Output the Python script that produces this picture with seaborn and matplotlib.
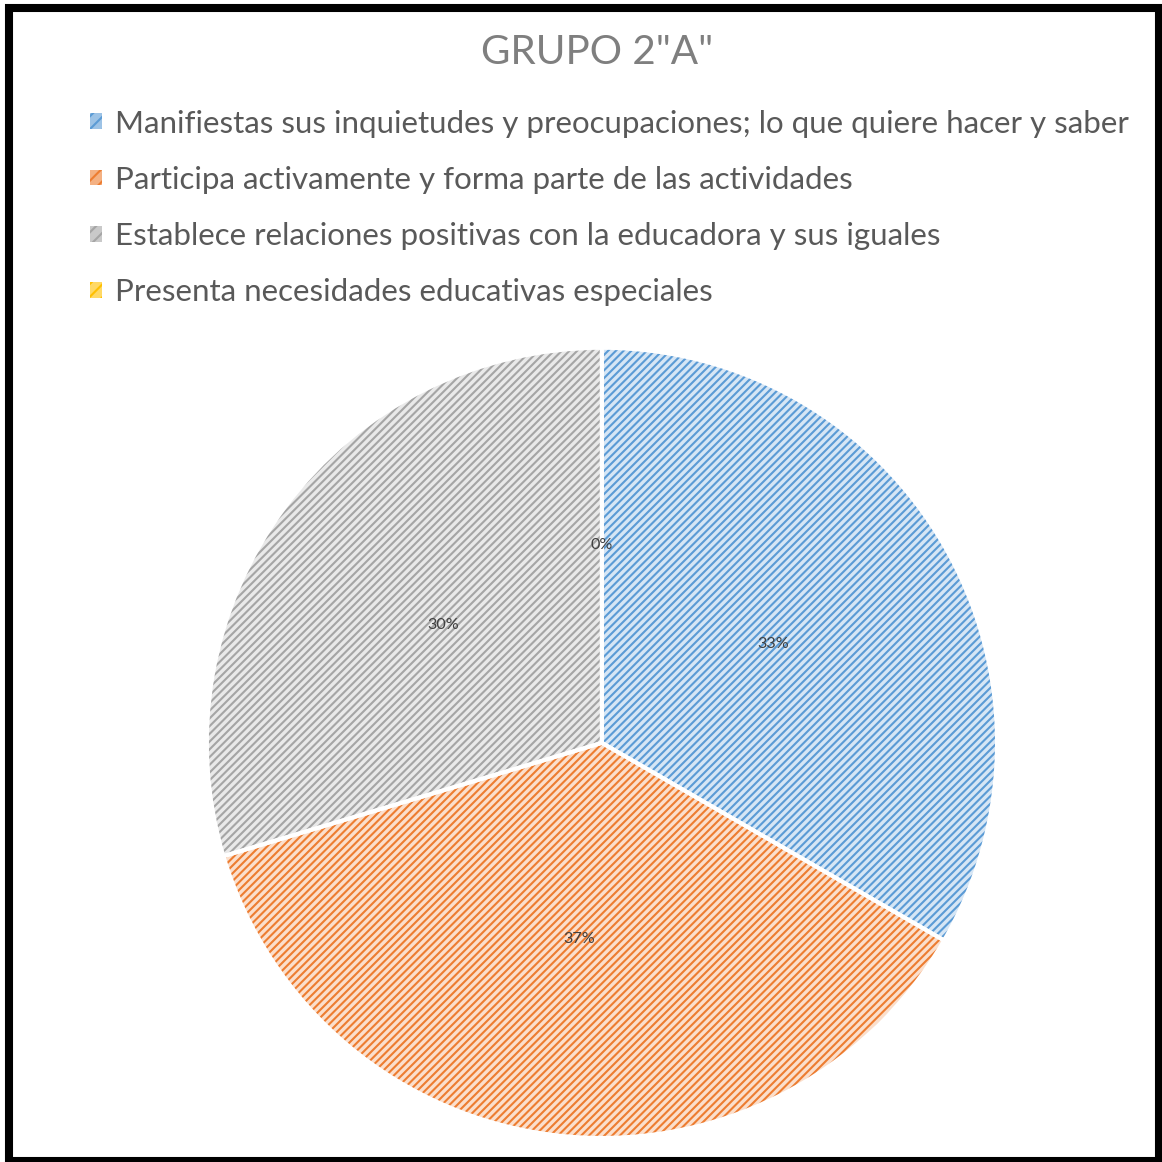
import matplotlib.pyplot as plt
import seaborn as sns
from matplotlib.colors import to_rgb
from matplotlib.patches import Patch, Rectangle

categories = [
    "Manifiestas sus inquietudes y preocupaciones; lo que quiere hacer y saber",
    "Participa activamente y forma parte de las actividades",
    "Establece relaciones positivas con la educadora y sus iguales",
    "Presenta necesidades educativas especiales",
]
counts = [9, 10, 8, 0]
colors = ["#5B9BD5", "#ED7D31", "#A5A5A5", "#FFC000"]
title = 'GRUPO 2"A"'


def tint(c, amount=0.75):
    r, g, b = to_rgb(c)
    return (r + (1 - r) * amount, g + (1 - g) * amount, b + (1 - b) * amount)


sns.set_theme(style="white")
plt.rcParams["font.family"] = ["Lato", "DejaVu Sans"]
plt.rcParams["hatch.linewidth"] = 1.3

fig = plt.figure(figsize=(10, 10), dpi=116.2)
ax = fig.add_axes([0.178, 0.0207, 0.680, 0.680])

wedges, _, autotexts = ax.pie(
    counts,
    colors=[tint(c) for c in colors],
    startangle=90,
    counterclock=False,
    autopct=lambda p: f"{p:.0f}%",
    pctdistance=0.5,
    textprops={"fontsize": 10, "color": "#404040"},
)
for w, c in zip(wedges, colors):
    w.set_edgecolor(c)
    w.set_linewidth(0)
    w.set_hatch("/////")

# white separators on top of the hatched slices
outline, _ = ax.pie(
    counts,
    startangle=90,
    counterclock=False,
    wedgeprops={"facecolor": "none", "edgecolor": "white", "linewidth": 2.5},
)
ax.set_xlim(-1, 1)
ax.set_ylim(-1, 1)
ax.set_aspect("equal")

fig.text(0.514, 0.955, title, ha="center", va="center",
         fontsize=25, color="#7F7F7F")

handles = [Patch(facecolor=tint(c, 0.4), edgecolor=c, hatch="///", linewidth=0) for c in colors]
fig.legend(
    handles, categories,
    loc="upper left", bbox_to_anchor=(0.053, 0.930),
    frameon=False, fontsize=19.4, labelcolor="#595959",
    handlelength=0.4, handleheight=0.4, handletextpad=0.4,
    labelspacing=0.9,
)

fig.patches.append(Rectangle((0.0077, 0.0009), 0.9897, 0.9922, transform=fig.transFigure,
                             fill=False, edgecolor="black", linewidth=5))

fig.savefig("out.png", dpi=116.2)
